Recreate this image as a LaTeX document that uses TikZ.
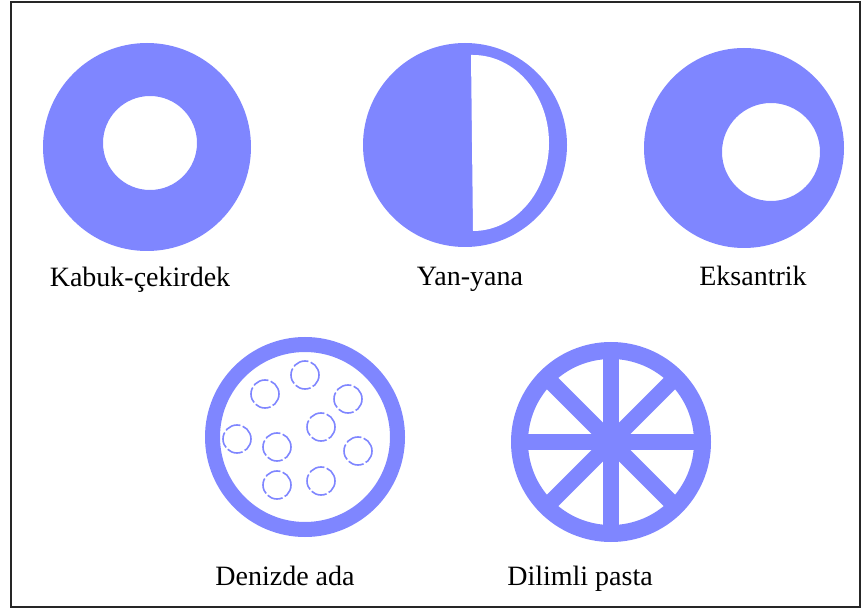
\documentclass[tikz,border=0pt]{standalone}
\usepackage{fontspec}
\setmainfont{Liberation Serif}
\definecolor{phaseblue}{RGB}{127,134,255}
\begin{document}
\begin{tikzpicture}[x=1pt, y=-1pt, font=\fontsize{28}{34}\selectfont]
\tikzset{
  phase/.style={fill=phaseblue},
  hole/.style={fill=white},
  caption/.style={anchor=base, inner sep=0pt},
  ring/.style={draw=phaseblue, line width=#1},
  island/.style={draw=phaseblue, line width=1.6pt, dash pattern=on 16pt off 2.5pt}
}
\useasboundingbox (0,0) rectangle (862,609);
\draw[black!85, line width=1.4pt] (11,2) rectangle (860,607);

% Kabuk-cekirdek
\begin{scope}[shift={(147,147)}]
  \fill[phase, even odd rule] (0,0) circle (104pt) (3,-4) circle (47pt);
\end{scope}
\node[caption] (kabuk) at (140,287) {Kabuk-çekirdek};

% Yan-yana
\begin{scope}[shift={(465,145)}]
  \fill[phase] (0,0) circle (102pt);
  \fill[hole] (6,-90) -- (8,86) arc[start angle=-90, end angle=90, x radius=76pt, y radius=88pt] -- cycle;
\end{scope}
\node[caption] (yanyana) at (470,286) {Yan-yana};

% Eksantrik
\begin{scope}[shift={(744,148)}]
  \fill[phase, even odd rule] (0,0) circle (100pt) (27,4) circle (49pt);
\end{scope}
\node[caption] (eksantrik) at (753,286) {Eksantrik};

% Denizde ada
\begin{scope}[shift={(305,437)}]
  \draw[ring=15pt] (0,0) circle (92.5pt);
  \foreach \dx/\dy in {0/-62,-40/-43,43/-38,16/-10,-68/2,-28/10,53/14,-28/48,16/44}
    \draw[island] (\dx,\dy) circle (14pt);
\end{scope}
\node[caption] (deniz) at (285,585) {Denizde ada};

% Dilimli pasta
\begin{scope}[shift={(611,442)}]
  \draw[ring=17pt] (0,0) circle (91.5pt);
  \foreach \a in {0,45,...,315}
    \draw[ring=16pt] (0,0) -- (\a:92pt);
\end{scope}
\node[caption] (dilimli) at (580,585) {Dilimli pasta};
\end{tikzpicture}
\end{document}
